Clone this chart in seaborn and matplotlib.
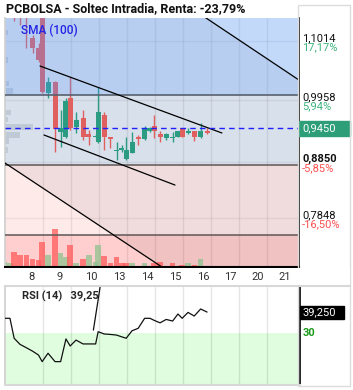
import numpy as np
import pandas as pd
import matplotlib
matplotlib.use('Agg')
import matplotlib.pyplot as plt
import seaborn as sns
from matplotlib.patches import Rectangle

# ---------------- data ----------------
# candle times in trading-day units (day 8 starts at 0)
candle_t = [-0.37, -0.18, -0.03, 0.18, 0.41, 0.63, 0.84, 0.97,
            1.18, 1.43, 1.63, 1.82, 1.97,
            2.18, 2.43, 2.64, 2.88, 2.97,
            3.18, 3.40, 3.63, 3.82, 3.97,
            4.18, 4.40, 4.63, 4.82, 4.97,
            5.18, 5.40, 5.63, 5.82, 5.97,
            6.18, 6.40, 6.63, 6.86]
candle_open = [1.170, 1.175, 1.185, 1.160, 1.155, 1.107, 1.089, 1.160,
               1.008, 1.028, 0.9386, 0.930, 0.999,
               0.9475, 0.9636, 0.935, 0.930, 0.9207,
               0.969, 0.9296, 0.9046, 0.9064, 0.8903,
               0.901, 0.9296, 0.926, 0.9403, 0.9493,
               0.935, 0.928, 0.928, 0.9296, 0.9457,
               0.9368, 0.9403, 0.9296, 0.9403]
candle_high = [1.195, 1.190, 1.190, 1.165, 1.160, 1.112, 1.098, 1.170,
               1.037, 1.030, 0.978, 1.000, 1.037,
               0.974, 0.978, 0.942, 0.935, 1.019,
               0.9743, 0.930, 0.9207, 0.9153, 0.9296,
               0.9386, 0.933, 0.9493, 0.9475, 0.969,
               0.9403, 0.9368, 0.9386, 0.9403, 0.9457,
               0.9457, 0.9403, 0.9547, 0.9457]
candle_low = [1.160, 1.165, 1.137, 1.130, 1.089, 1.080, 1.064, 1.008,
              0.999, 0.903, 0.9117, 0.928, 0.942,
              0.937, 0.924, 0.915, 0.928, 0.919,
              0.9064, 0.910, 0.8885, 0.9028, 0.8885,
              0.901, 0.9153, 0.9242, 0.9386, 0.928,
              0.9207, 0.9242, 0.9207, 0.9296, 0.9296,
              0.935, 0.9225, 0.928, 0.935]
candle_close = [1.185, 1.185, 1.160, 1.150, 1.146, 1.089, 1.067, 1.010,
                1.028, 0.944, 0.9457, 0.994, 0.946,
                0.960, 0.9296, 0.9296, 0.932, 0.9743,
                0.9296, 0.926, 0.9064, 0.9099, 0.9064,
                0.9207, 0.926, 0.9457, 0.9457, 0.9403,
                0.9296, 0.935, 0.9296, 0.9403, 0.9296,
                0.9403, 0.9296, 0.9403, 0.9368]
volume_k = [25, 20, 75, 60, 60, 40, 35, 125,
            60, 190, 70, 50, 110,
            20, 40, 60, 25, 110,
            55, 20, 50, 20, 20,
            20, 5, 20, 5, 20,
            25, 5, 20, 5, 10,
            20, 10, 40, 5]
volume_up = [1, 1, 0, 0, 0, 0, 0, 0,
             1, 0, 1, 1, 0,
             1, 0, 1, 1, 1,
             0, 0, 0, 0, 0,
             1, 0, 1, 1, 0,
             0, 1, 0, 1, 0,
             1, 0, 1, 0]
rsi_14 = [36.5, 36.5, 27.7, 25.0, 23.5, 22.0, 20.3, 17.4,
          21.1, 17.4, 17.4, 27.4, 24.3,
          26.9, 25.2, 25.2, 25.2, 30.6,
          29.6, 29.4, 29.1, 28.3, 27.7,
          31.0, 32.1, 36.5, 36.5, 35.6,
          34.5, 36.0, 35.3, 38.4, 36.5,
          39.1, 37.5, 40.6, 39.25]
rsi_spike_t = [2.80, 3.08]
rsi_spike_v = [31.3, 53.5]

# volume-by-price profile on the left edge
profile_price = [1.1157, 1.0674, 1.0262, 1.0119, 0.9743, 0.9618, 0.9475, 0.9332, 0.9225, 0.9064]
profile_len = [0.11, 0.11, 0.14, 0.29, 0.21, 0.11, 1.0, 0.54, 0.14, 0.11]

# support / resistance zones and trend channels
zone_edges = [1.0047, 0.8795, 0.7543]
big_upper = ([6.50, 10.20], [1.1533, 1.0296])
big_lower = ([-0.40, 5.40], [0.8845, 0.6920])
small_upper = ([0.893, 7.39], [1.0566, 0.9368])
small_lower = ([1.036, 5.714], [0.9332, 0.8437])
last_price = 0.945

level_values = [1.1014, 0.9958, 0.8850, 0.7848, 0.6790]
level_pcts = ['17,17%', '5,94%', '-5,85%', '-16,50%', '']

day_labels = ['8', '9', '10', '13', '14', '15', '16', '17', '20', '21']
day_label_pos = [0.60, 1.58, 2.71, 3.71, 4.71, 5.71, 6.71, 7.68, 8.68, 9.64]
day_edges = [1, 2, 3, 4, 5, 6, 7, 8, 9]

df = pd.DataFrame({'t': candle_t, 'open': candle_open, 'high': candle_high,
                   'low': candle_low, 'close': candle_close,
                   'vol': volume_k, 'vol_up': volume_up, 'rsi': rsi_14})

# ---------------- style ----------------
sns.set_theme(style='white')
plt.rcParams['font.family'] = ['Roboto', 'DejaVu Sans']

W, H = 353, 390
fig = plt.figure(figsize=(W / 100, H / 100), dpi=100)


def box(x0, y0, x1, y1):
    return [x0 / W, 1 - y1 / H, (x1 - x0) / W, (y1 - y0) / H]


ax = fig.add_axes(box(5, 18, 299, 267))
strip = fig.add_axes(box(5, 268, 350, 286))
rsi_ax = fig.add_axes(box(5, 287, 300, 385))
strip.set_zorder(5)

PX_DAY = 28.0
PX_PRICE = 559.0
ymin, ymax = 0.6971, 1.1425
xmin = -0.357
ax.set_xlim(xmin, xmin + 294 / PX_DAY)
ax.set_ylim(ymin, ymax)

# zones
ax.axhspan(zone_edges[0], 2, color='#eff6f9', lw=0, zorder=0)
ax.axhspan(zone_edges[1], zone_edges[0], color='#e6effa', lw=0, zorder=0)
ax.axhspan(zone_edges[2], zone_edges[1], color='#ffeaea', lw=0, zorder=0)
ax.axhspan(0, zone_edges[2], color='#ffcfcf', lw=0, zorder=0)


def line_at(seg, t):
    (t0, t1), (p0, p1) = seg
    return p0 + (p1 - p0) / (t1 - t0) * (np.asarray(t) - t0)


tt = np.linspace(-0.5, 10.5, 50)
ax.fill_between(tt, line_at(big_lower, tt), line_at(big_upper, tt),
                color='black', alpha=0.06, lw=0, zorder=0.5)

# grid
for d in day_edges:
    ax.axvline(d, color='black', alpha=0.08, lw=1, zorder=0.8)
for lv in level_values:
    ax.axhline(lv, color='black', alpha=0.06, lw=1, zorder=0.8)

# volume profile
ax.barh(profile_price, profile_len, left=xmin, height=0.009,
        color='#aab4c2', alpha=0.5, lw=0, zorder=1)

# volume bars
vol_scale = 1 / PX_PRICE / 5.0
vol_cols = ['#8fc28f' if u else '#ff5a5a' for u in df['vol_up']]
ax.bar(df['t'], df['vol'] * vol_scale, bottom=ymin, width=0.19,
       color=vol_cols, alpha=0.75, lw=0, zorder=1)

# candles
up = df['close'] >= df['open']
cols = np.where(up, '#2b9c82', '#e0605f')
ax.vlines(df['t'], df['low'], df['high'], colors=cols, lw=1, zorder=2)
body = (df['close'] - df['open']).abs().clip(lower=0.0019)
ax.bar(df['t'], body, bottom=df[['open', 'close']].min(axis=1), width=0.18,
       color=cols, lw=0, zorder=2)

# blue tint over the upper zone
ax.axhspan(zone_edges[0], 2, color=(90 / 255, 150 / 255, 1.0), alpha=0.3, lw=0, zorder=2.5)

# zone borders
ax.axhline(zone_edges[0], color='#58606e', lw=1.2, zorder=3)
ax.axhline(zone_edges[1], color='#6a6060', lw=1.2, zorder=3)
ax.axhline(zone_edges[2], color='#6a6060', lw=1.2, zorder=3)

# channels
for seg in [big_upper, big_lower, small_upper, small_lower]:
    sns.lineplot(x=seg[0], y=seg[1], ax=ax, color='black', lw=0.9, zorder=3)

ax.axhline(last_price, color='#1f1fff', ls=(0, (4, 3)), lw=1, zorder=3)

ax.set_xticks([])
ax.set_yticks([])
ax.set_xlabel('')
ax.set_ylabel('')
for s in ['top']:
    ax.spines[s].set_visible(False)
ax.spines['left'].set_color('#d0d0d0')
ax.spines['right'].set_color('black')
ax.spines['right'].set_linewidth(1.2)
ax.spines['bottom'].set_color('black')
ax.spines['bottom'].set_linewidth(1.5)

ax.text(16 / 294, 1 - 12 / 249, 'SMA (100)', transform=ax.transAxes, color='#2424e6',
        fontsize=8.5, fontweight='medium', va='center', ha='left', zorder=4)

# right price labels
ytr = ax.get_yaxis_transform()
for i, (lv, pc) in enumerate(zip(level_values, level_pcts)):
    ax.text(1.011, lv, f'{lv:.4f}'.replace('.', ','), transform=ytr, ha='left', va='baseline',
            fontsize=8, color='#111111', fontweight='bold' if lv == 0.8850 else 'normal',
            clip_on=False)
    if pc:
        ax.text(1.011, lv - 1.5 / PX_PRICE, pc, transform=ytr, ha='left', va='top', fontsize=8,
                color='#3cb47c' if not pc.startswith('-') else '#ff5050', clip_on=False)

ax.add_patch(Rectangle((1.0, last_price - 7.5 / PX_PRICE), 51 / 294, 15 / PX_PRICE,
                       transform=ytr, color='#2e9e78', clip_on=False, zorder=5))
ax.text(1.011, last_price, f'{last_price:.4f}'.replace('.', ','), transform=ytr, ha='left',
        va='center', fontsize=8, color='white', clip_on=False, zorder=6)

# x tick strip
strip.set_xlim(xmin, xmin + 345 / PX_DAY)
strip.set_ylim(0, 1)
strip.set_facecolor('white')
for lab, pos in zip(day_labels, day_label_pos):
    strip.text(pos, 0.5, lab, ha='center', va='center', fontsize=8, color='#333333')
strip.set_xticks([])
strip.set_yticks([])
for s in ['top', 'left', 'right']:
    strip.spines[s].set_visible(False)
strip.spines['bottom'].set_color('#d8d8d8')
strip.spines['bottom'].set_linewidth(1.5)

# RSI panel
rsi_ax.set_xlim(xmin, xmin + 295 / PX_DAY)
rsi_lo, rsi_hi = 7.1, 50.3
rsi_ax.set_ylim(rsi_lo, rsi_hi)
rsi_ax.axhspan(rsi_lo, 30, color='#e0fde0', lw=0, zorder=0)
for d in day_edges:
    rsi_ax.axvline(d, color='black', alpha=0.1, lw=1, zorder=0.5)
sns.lineplot(data=df, x='t', y='rsi', ax=rsi_ax, color='#111111', lw=0.9, zorder=3)
sns.lineplot(x=rsi_spike_t, y=rsi_spike_v, ax=rsi_ax, color='#111111', lw=0.9, zorder=3)
rsi_ax.set_xticks([])
rsi_ax.set_yticks([])
rsi_ax.set_xlabel('')
rsi_ax.set_ylabel('')
rsi_ax.spines['top'].set_visible(False)
rsi_ax.spines['left'].set_color('#d0d0d0')
rsi_ax.spines['bottom'].set_color('#d8d8d8')
rsi_ax.spines['bottom'].set_linewidth(1.5)
rsi_ax.spines['right'].set_color('black')
rsi_ax.spines['right'].set_linewidth(1.2)

last_rsi = rsi_14[-1]
rsi_ax.text(17 / 295, 1 - 9 / 98, f'RSI (14)   {last_rsi:.2f}'.replace('.', ','),
            transform=rsi_ax.transAxes, fontsize=8, fontweight='bold', va='center', ha='left')
rtr = rsi_ax.get_yaxis_transform()
rsi_ax.add_patch(Rectangle((1.0, last_rsi - 6.5 / 2.27), 44 / 295, 13 / 2.27,
                           transform=rtr, color='black', clip_on=False, zorder=5))
rsi_ax.text(1.01, last_rsi, f'{last_rsi:.3f}'.replace('.', ','), transform=rtr, ha='left',
            va='center', fontsize=8, color='white', clip_on=False, zorder=6)
rsi_ax.text(1.01, 30, '30', transform=rtr, ha='left', va='center', fontsize=8,
            fontweight='bold', color='#1a9a1a', clip_on=False)
rsi_ax.text(1.01, 51.5, '50', transform=rtr, ha='left', va='center', fontsize=8,
            color='#111111', clip_on=False)

# title
fig.text(6 / W, 1 - 9 / H, 'PCBOLSA - Soltec Intradia, Renta: -23,79%', fontsize=9,
         fontweight='bold', va='center', ha='left', color='#111111')

# outer frame
fig.add_artist(Rectangle((298 / W, 1 - 386 / H), 52 / W, 381 / H, transform=fig.transFigure,
                         fill=False, ec='#dcdcdc', lw=1))

fig.savefig('out.png', dpi=100)
